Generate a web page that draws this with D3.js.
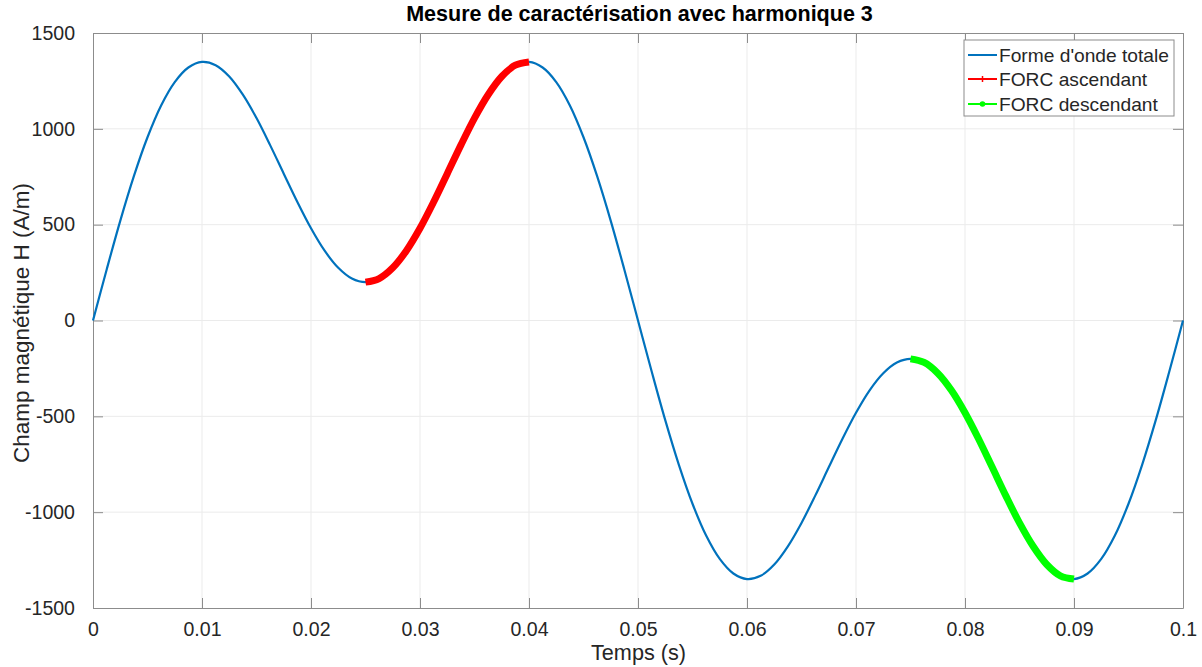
<!DOCTYPE html>
<html><head><meta charset="utf-8">
<script src="https://cdn.jsdelivr.net/npm/d3@7"></script>
<style>body{margin:0;background:#fff}svg{display:block}text{font-family:"Liberation Sans",Arial,sans-serif}</style>
</head><body><svg id="c" width="1202" height="667"></svg>
<script>
// time samples (s), step 0.00125
const timeValues = d3.range(0, 81).map(i => +(i * 0.00125).toFixed(5));
// H values (A/m)
const hValues = [
  0, 265, 520, 753, 956, 1122, 1244, 1320, 1349, 1332, 1273, 1178, 1056, 915, 766, 618, 481, 364, 275, 219,
  200, 219, 275, 364, 481, 618, 766, 915, 1056, 1178, 1273, 1332, 1349, 1320, 1244, 1122, 956, 753, 520, 265,
  0, -265, -520, -753, -956, -1122, -1244, -1320, -1349, -1332, -1273, -1178, -1056, -915, -766, -618, -481, -364, -275, -219,
  -200, -219, -275, -364, -481, -618, -766, -915, -1056, -1178, -1273, -1332, -1349, -1320, -1244, -1122, -956, -753, -520, -265,
  0
];
const forcAscRange = [0.025, 0.04];
const forcDescRange = [0.075, 0.09];
const xTicks = [0, 0.01, 0.02, 0.03, 0.04, 0.05, 0.06, 0.07, 0.08, 0.09, 0.1];
const yTicks = [-1500, -1000, -500, 0, 500, 1000, 1500];
const seriesNames = ["Forme d'onde totale", "FORC ascendant", "FORC descendant"];
const seriesColors = ["#0072BD", "#FF0000", "#00FF00"];
const titleText = "Mesure de caractérisation avec harmonique 3";
const xLabel = "Temps (s)";
const yLabel = "Champ magnétique H (A/m)";

const svg = d3.select("#c");
const L = 93, R = 1183, T = 33, B = 608;
const x = d3.scaleLinear().domain([0, 0.1]).range([L, R]);
const y = d3.scaleLinear().domain([-1500, 1500]).range([B, T]);

const data = timeValues.map((t, i) => ({t, h: hValues[i]}));
const inRange = r => data.filter(d => d.t >= r[0] - 1e-9 && d.t <= r[1] + 1e-9);

// font size fitting to target widths
function fitSize(text, weight, target) {
  const t = svg.append("text").style("font-size", "20px").style("font-weight", weight).text(text);
  const w = t.node().getComputedTextLength();
  t.remove();
  return 20 * target / w;
}
const tickFs = fitSize("-1500", "normal", 50);
const titleFs = fitSize(titleText, "bold", 467);
const xlFs = fitSize(xLabel, "normal", 95);
const ylFs = fitSize(yLabel, "normal", 280);
const legFs = fitSize(seriesNames[0], "normal", 170);

// grid
const g = svg.append("g");
g.selectAll(".gx").data(xTicks.slice(1, -1)).enter().append("line")
  .attr("x1", d => x(d)).attr("x2", d => x(d)).attr("y1", T).attr("y2", B)
  .attr("stroke", "#ebebeb").attr("stroke-width", 1);
g.selectAll(".gy").data(yTicks.slice(1, -1)).enter().append("line")
  .attr("y1", d => y(d)).attr("y2", d => y(d)).attr("x1", L).attr("x2", R)
  .attr("stroke", "#ebebeb").attr("stroke-width", 1);

// axes (ticks inside)
const axB = d3.axisBottom(x).tickValues(xTicks).tickFormat(d3.format("~g")).tickSizeInner(-10).tickSizeOuter(0).tickPadding(14);
const axL = d3.axisLeft(y).tickValues(yTicks).tickFormat(d => d).tickSizeInner(-10).tickSizeOuter(0).tickPadding(18);
const axT = d3.axisTop(x).tickValues(xTicks).tickFormat("").tickSizeInner(-10).tickSizeOuter(0);
const axR = d3.axisRight(y).tickValues(yTicks).tickFormat("").tickSizeInner(-10).tickSizeOuter(0);
function style(sel) {
  sel.selectAll("path,line").attr("stroke", "#8c8c8c");
  sel.selectAll("text").attr("fill", "#262626").style("font-size", tickFs + "px").style("font-family", '"Liberation Sans",Arial,sans-serif');
}
svg.append("g").attr("transform", `translate(0,${B})`).call(axB).call(style);
svg.append("g").attr("transform", `translate(${L},0)`).call(axL).call(style);
svg.append("g").attr("transform", `translate(0,${T})`).call(axT).call(style);
svg.append("g").attr("transform", `translate(${R},0)`).call(axR).call(style);

// lines
const line = d3.line().x(d => x(d.t)).y(d => y(d.h)).curve(d3.curveCatmullRom.alpha(0.5));
svg.append("path").datum(data).attr("d", line).attr("fill", "none")
  .attr("stroke", seriesColors[0]).attr("stroke-width", 2.2);
svg.append("path").datum(inRange(forcAscRange)).attr("d", line).attr("fill", "none")
  .attr("stroke", seriesColors[1]).attr("stroke-width", 7);
svg.append("path").datum(inRange(forcDescRange)).attr("d", line).attr("fill", "none")
  .attr("stroke", seriesColors[2]).attr("stroke-width", 7);

// title & labels
svg.append("text").attr("x", 639.5).attr("y", 21).attr("text-anchor", "middle")
  .style("font-size", titleFs + "px").style("font-weight", "bold").attr("fill", "#000").text(titleText);
svg.append("text").attr("x", 638.5).attr("y", 660).attr("text-anchor", "middle")
  .style("font-size", xlFs + "px").attr("fill", "#262626").text(xLabel);
svg.append("text").attr("transform", `translate(29,323) rotate(-90)`).attr("text-anchor", "middle")
  .style("font-size", ylFs + "px").attr("fill", "#262626").text(yLabel);

// legend
const lg = svg.append("g");
lg.append("rect").attr("x", 964).attr("y", 40).attr("width", 210).attr("height", 76)
  .attr("fill", "#fff").attr("stroke", "#8c8c8c").attr("stroke-width", 1);
const rows = [55, 79, 104];
seriesNames.forEach((n, i) => {
  lg.append("line").attr("x1", 968).attr("x2", 997).attr("y1", rows[i]).attr("y2", rows[i])
    .attr("stroke", seriesColors[i]).attr("stroke-width", 2);
  if (i === 1) {
    lg.append("line").attr("x1", 982.5).attr("x2", 982.5).attr("y1", rows[i] - 3).attr("y2", rows[i] + 3)
      .attr("stroke", seriesColors[i]).attr("stroke-width", 1.5);
  }
  if (i === 2) {
    lg.append("circle").attr("cx", 982.5).attr("cy", rows[i]).attr("r", 2.8).attr("fill", seriesColors[i]);
  }
  lg.append("text").attr("x", 999).attr("y", rows[i] + 6.5).style("font-size", legFs + "px")
    .attr("fill", "#262626").text(n);
});
</script></body></html>
